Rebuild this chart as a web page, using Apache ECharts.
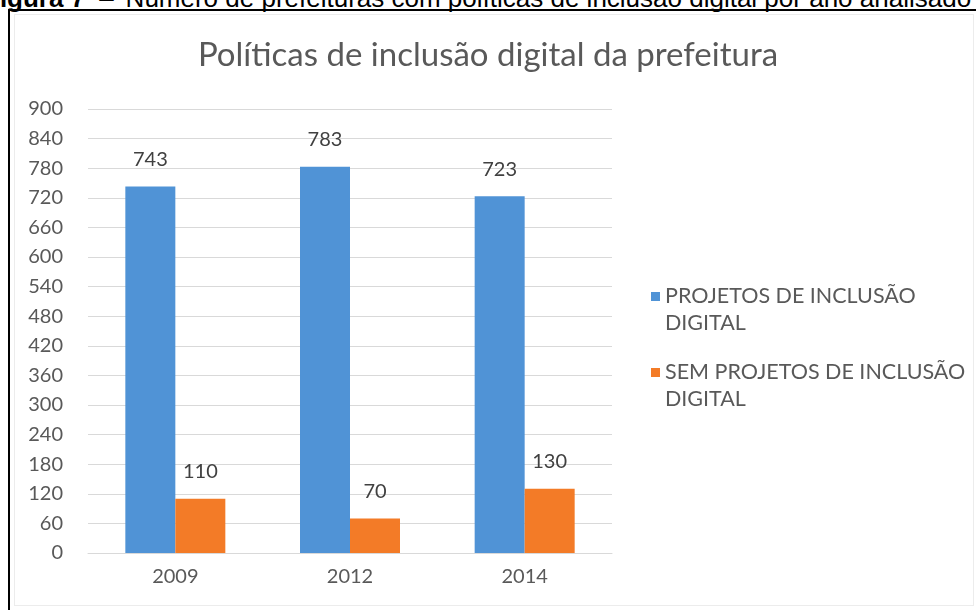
<!DOCTYPE html>
<html>
<head>
<meta charset="utf-8">
<script src="https://cdn.jsdelivr.net/npm/echarts@6/dist/echarts.min.js"></script>
<style>
  html, body { margin: 0; padding: 0; background: #fff; }
  #page { position: relative; width: 976px; height: 610px; overflow: hidden; background: #fff; }
  #caption {
    position: absolute; left: -16px; top: -17px; white-space: nowrap; line-height: 30px;
    font-family: "Liberation Sans", Arial, sans-serif; font-size: 26px; color: #000;
  }
  #caption b { font-weight: bold; }
  #caption .dash { margin-left: 14px; margin-right: 12px; }
  #frame {
    position: absolute; left: 8px; top: 9px; width: 980px; height: 620px;
    border-left: 2px solid #000; border-top: 2px solid #000;
  }
  #inner {
    position: absolute; left: 14px; top: 14px; width: 958px; height: 590px;
    border: 1px solid #ececec;
  }
  #chart { position: absolute; left: 0; top: 0; width: 976px; height: 610px; }
</style>
</head>
<body>
<div id="page">
  <div id="caption"><b>Figura 7</b><span class="dash">–</span>Número de prefeituras com políticas de inclusão digital por ano analisado</div>
  <div id="frame"></div>
  <div id="inner"></div>
  <div id="chart"></div>
</div>
<script>
const years = ['2009', '2012', '2014'];
const comProjetos = [743, 783, 723];
const semProjetos = [110, 70, 130];
const seriesNames = ['PROJETOS DE INCLUSÃO DIGITAL', 'SEM PROJETOS DE INCLUSÃO DIGITAL'];
const legendLines = {
  'PROJETOS DE INCLUSÃO DIGITAL': 'PROJETOS DE INCLUSÃO\nDIGITAL',
  'SEM PROJETOS DE INCLUSÃO DIGITAL': 'SEM PROJETOS DE INCLUSÃO\nDIGITAL'
};

const chart = echarts.init(document.getElementById('chart'), null, { renderer: 'canvas' });

const labelStyle = {
  show: true,
  position: 'top',
  distance: 17,
  color: '#404040',
  fontSize: 20,
  fontFamily: 'Lato, "Open Sans", sans-serif'
};

chart.setOption({
  animation: false,
  textStyle: { fontFamily: 'Lato, "Open Sans", sans-serif' },
  title: {
    text: 'Políticas de inclusão digital da prefeitura',
    left: 'center',
    top: 34,
    textStyle: { color: '#595959', fontSize: 33, fontWeight: 'normal', fontFamily: 'Lato, sans-serif' }
  },
  legend: {
    orient: 'vertical',
    left: 646,
    top: 278,
    itemWidth: 9,
    itemHeight: 36,
    itemGap: 22,
    itemTextGap: 7,
    icon: 'path://M0,0 H9 V9 H0 Z M0,36 L9,36',
    formatter: name => legendLines[name],
    textStyle: { color: '#595959', fontSize: 21.5, lineHeight: 27 },
    data: seriesNames
  },
  grid: { left: 88, right: 364, top: 109, bottom: 57 },
  xAxis: {
    type: 'category',
    data: years,
    axisLine: { lineStyle: { color: '#d9d9d9' } },
    axisTick: { show: false },
    axisLabel: { color: '#595959', fontSize: 20, margin: 14 }
  },
  yAxis: {
    type: 'value',
    min: 0,
    max: 900,
    interval: 60,
    axisLine: { show: false },
    axisTick: { show: false },
    axisLabel: { color: '#595959', fontSize: 20, margin: 25 },
    splitLine: { lineStyle: { color: '#d9d9d9' } }
  },
  series: [
    {
      name: seriesNames[0],
      type: 'bar',
      data: comProjetos,
      barWidth: 50,
      barGap: '0%',
      itemStyle: { color: '#5093d6' },
      label: labelStyle
    },
    {
      name: seriesNames[1],
      type: 'bar',
      data: semProjetos,
      barWidth: 50,
      barGap: '0%',
      itemStyle: { color: '#f37b27' },
      label: labelStyle
    }
  ]
});
</script>
</body>
</html>
